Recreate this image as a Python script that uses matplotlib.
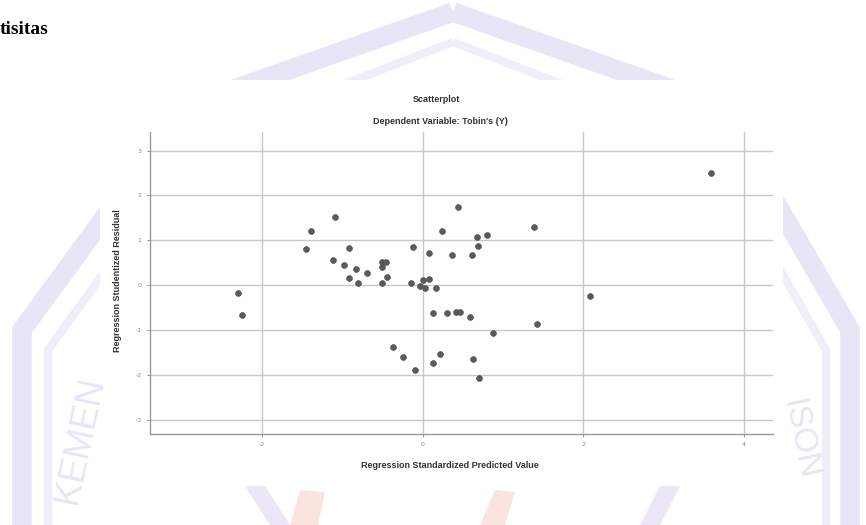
import numpy as np
import matplotlib
matplotlib.use('Agg')
import matplotlib.pyplot as plt
from matplotlib.patches import Polygon, Rectangle

# Regression standardized predicted value (x) vs studentized residual (y)
pred = [-2.30, -2.24, -1.445, -1.387, -1.088, -1.109, -0.918, -0.972, -0.918,
        -0.823, -0.806, -0.686, -0.508, -0.508, -0.454, -0.445, -0.504, -0.114,
        -0.147, -0.03, 0.0, 0.03, 0.085, 0.168, 0.085, 0.243, 0.363, 0.437,
        0.612, 0.678, 0.694, 0.806, 1.387, 3.588, 2.085, 0.135, 0.309, 0.417,
        0.466, 0.591, 0.877, 1.424, 0.218, 0.125, 0.628, 0.705, -0.363, -0.246,
        -0.093]
resid = [-0.17, -0.66, 0.815, 1.21, 1.53, 0.57, 0.84, 0.445, 0.155,
         0.363, 0.05, 0.267, 0.414, 0.526, 0.512, 0.178, 0.044, 0.846,
         0.044, -0.01, 0.118, -0.067, 0.14, -0.067, 0.71, 1.216, 0.668, 1.75,
         0.68, 1.083, 0.88, 1.113, 1.29, 2.51, -0.23, -0.62, -0.62, -0.59,
         -0.59, -0.70, -1.06, -0.87, -1.53, -1.74, -1.64, -2.06, -1.37, -1.59,
         -1.89]

x_ticks = [-2, 0, 2, 4]
y_ticks = [-3, -2, -1, 0, 1, 2, 3]

W, H = 866, 525
fig = plt.figure(figsize=(W / 100, H / 100), dpi=100)

# background page with faint logo watermark (pixel coords, y down)
bg = fig.add_axes([0, 0, 1, 1])
bg.set_xlim(0, W)
bg.set_ylim(H, 0)
bg.axis('off')
outer = [(453, 12), (186, 106), (22, 330), (22, 800), (850, 800),
         (850, 330), (720, 106)]
inner = [(453, 42), (200, 140), (48, 350), (48, 800), (826, 800),
         (826, 350), (706, 140)]
bg.add_patch(Polygon(outer, closed=True, fill=False, edgecolor='#e6e6f6', lw=14))
bg.add_patch(Polygon(inner, closed=True, fill=False, edgecolor='#efeffa', lw=6))
bg.text(80, 440, 'KEMEN', rotation=78, color='#e6e6f4', fontsize=26,
        ha='center', va='center', family='Liberation Sans')
bg.text(800, 440, 'ISON', rotation=-78, color='#e6e6f4', fontsize=24,
        ha='center', va='center', family='Liberation Sans')
# bottom part of the logo
bg.add_patch(Polygon([(290, 525), (300, 490), (325, 492), (318, 525)],
                     closed=True, color='#fae4df', lw=0))
bg.add_patch(Polygon([(480, 525), (495, 490), (515, 492), (505, 525)],
                     closed=True, color='#fae4df', lw=0))
bg.add_patch(Polygon([(245, 486), (265, 486), (290, 525), (270, 525)],
                     closed=True, color='#ebe7f6', lw=0))
bg.add_patch(Polygon([(660, 486), (680, 486), (660, 525), (640, 525)],
                     closed=True, color='#ebe7f6', lw=0))
# white chart box
bg.add_patch(Rectangle((100, 80), 683, 406, color='white', lw=0))

bg.text(0, 30, 'tisitas', family='Liberation Serif', fontweight='bold',
        fontsize=14, ha='left', va='center', color='black')
bg.text(436, 100, 'Scatterplot', fontsize=6.5, fontweight='bold',
        ha='center', va='center', color='#333333', family='Liberation Sans')
bg.text(440, 121, "Dependent Variable: Tobin's (Y)", fontsize=6.5,
        fontweight='bold', ha='center', va='center', color='#333333',
        family='Liberation Sans')
bg.text(450, 466, 'Regression Standardized Predicted Value', fontsize=6.5,
        fontweight='bold', ha='center', va='center', color='#333333',
        family='Liberation Sans')
bg.text(118, 281, 'Regression Studentized Residual', fontsize=6.5,
        fontweight='bold', ha='center', va='center', rotation=90,
        color='#333333', family='Liberation Sans')

# main scatter
ax = fig.add_axes([150 / W, 1 - 434 / H, 623 / W, 302.3 / H])
ax.patch.set_alpha(0)
ax.scatter(pred, resid, s=18, color='#5a5a5a', edgecolors='#484848',
           linewidths=0.4, zorder=3)
ax.set_xlim(-3.39, 4.36)
ax.set_ylim(-3.31, 3.42)
ax.set_xticks(x_ticks)
ax.set_yticks(y_ticks)
ax.set_xticklabels([str(t) for t in x_ticks])
ax.set_yticklabels([str(t) for t in y_ticks])
ax.grid(True, color='#c8c8c8', lw=1.0, zorder=0)
ax.tick_params(labelsize=4.5, colors='#888888', length=2, width=0.6, pad=4)
for s in ['top', 'right']:
    ax.spines[s].set_visible(False)
for s in ['left', 'bottom']:
    ax.spines[s].set_color('#999999')
    ax.spines[s].set_linewidth(1.0)

fig.savefig('out.png', dpi=100)
